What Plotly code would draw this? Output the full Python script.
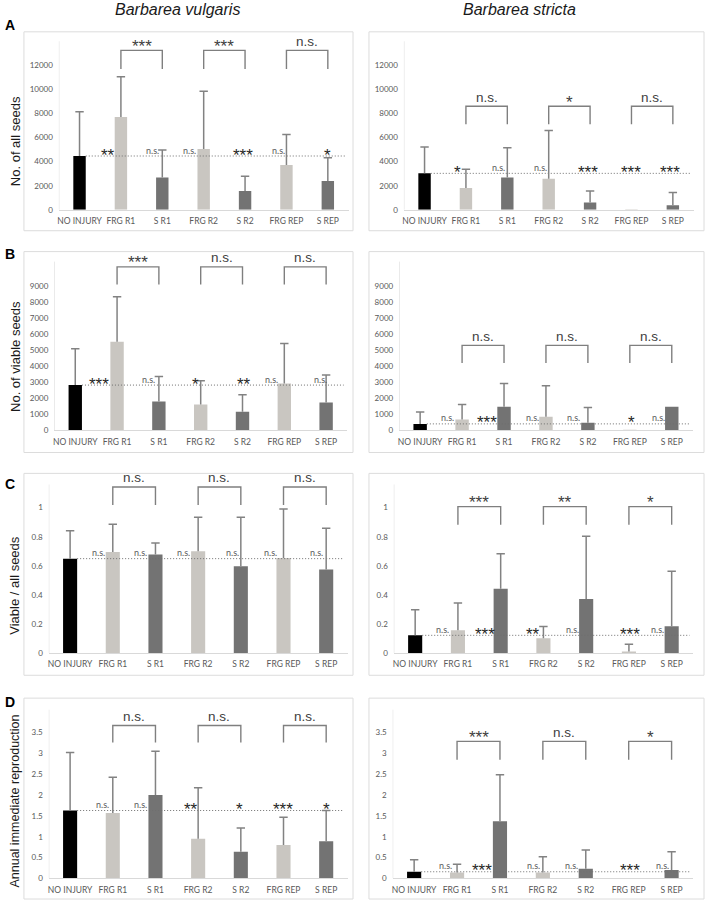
import plotly.graph_objects as go

W, H = 708, 907

# ---------------- data ----------------
categories = ["NO INJURY", "FRG R1", "S R1", "FRG R2", "S R2", "FRG REP", "S REP"]
species_titles = ["Barbarea vulgaris", "Barbarea stricta"]
measure_titles = ["No. of all seeds", "No. of viable seeds", "Viable / all seeds",
                  "Annual immediate reproduction"]
panel_letters = ["A", "B", "C", "D"]

vulgaris_all_seeds_mean = [4470, 7720, 2680, 5050, 1570, 3720, 2400]
vulgaris_all_seeds_sd = [3670, 3340, 2290, 4800, 1220, 2540, 1930]
stricta_all_seeds_mean = [3030, 1820, 2680, 2590, 610, 55, 390]
stricta_all_seeds_sd = [2180, 1550, 2480, 4000, 960, 0, 1040]

vulgaris_viable_seeds_mean = [2815, 5506, 1790, 1600, 1150, 2920, 1730]
vulgaris_viable_seeds_sd = [2260, 2814, 1560, 1480, 1070, 2480, 1720]
stricta_viable_seeds_mean = [400, 680, 1465, 846, 475, 40, 1465]
stricta_viable_seeds_sd = [735, 930, 1445, 1920, 950, 0, 0]

vulgaris_viable_ratio_mean = [0.649, 0.695, 0.677, 0.700, 0.597, 0.654, 0.574]
vulgaris_viable_ratio_sd = [0.192, 0.191, 0.079, 0.234, 0.337, 0.337, 0.285]
stricta_viable_ratio_mean = [0.121, 0.156, 0.442, 0.101, 0.371, 0.009, 0.183]
stricta_viable_ratio_sd = [0.176, 0.187, 0.240, 0.080, 0.432, 0.050, 0.380]

vulgaris_reproduction_mean = [1.63, 1.57, 2.00, 0.955, 0.64, 0.80, 0.89]
vulgaris_reproduction_sd = [1.39, 0.86, 1.05, 1.22, 0.57, 0.67, 0.74]
stricta_reproduction_mean = [0.16, 0.14, 1.37, 0.14, 0.23, 0.01, 0.20]
stricta_reproduction_sd = [0.29, 0.20, 1.12, 0.38, 0.45, 0.0, 0.44]

# significance of each treatment vs NO INJURY
vulgaris_all_vs_control = ["**", "n.s.", "n.s.", "***", "n.s.", "*"]
stricta_all_vs_control = ["*", "n.s.", "n.s.", "***", "***", "***"]
vulgaris_viable_vs_control = ["***", "n.s.", "*", "**", "n.s.", "n.s."]
stricta_viable_vs_control = ["n.s.", "***", "n.s.", "n.s.", "*", "n.s."]
vulgaris_ratio_vs_control = ["n.s.", "n.s.", "n.s.", "n.s.", "n.s.", "n.s."]
stricta_ratio_vs_control = ["n.s.", "***", "**", "n.s.", "***", "n.s."]
vulgaris_repro_vs_control = ["n.s.", "n.s.", "**", "*", "***", "*"]
stricta_repro_vs_control = ["n.s.", "***", "n.s.", "n.s.", "***", "n.s."]

# significance FRG vs S (R1, R2, REP)
vulgaris_all_pairs = ["***", "***", "n.s."]
stricta_all_pairs = ["n.s.", "*", "n.s."]
vulgaris_viable_pairs = ["***", "n.s.", "n.s."]
stricta_viable_pairs = ["n.s.", "n.s.", "n.s."]
vulgaris_ratio_pairs = ["n.s.", "n.s.", "n.s."]
stricta_ratio_pairs = ["***", "**", "*"]
vulgaris_repro_pairs = ["n.s.", "n.s.", "n.s."]
stricta_repro_pairs = ["***", "n.s.", "*"]

panels = [
    (vulgaris_all_seeds_mean, vulgaris_all_seeds_sd, vulgaris_all_vs_control, vulgaris_all_pairs),
    (stricta_all_seeds_mean, stricta_all_seeds_sd, stricta_all_vs_control, stricta_all_pairs),
    (vulgaris_viable_seeds_mean, vulgaris_viable_seeds_sd, vulgaris_viable_vs_control, vulgaris_viable_pairs),
    (stricta_viable_seeds_mean, stricta_viable_seeds_sd, stricta_viable_vs_control, stricta_viable_pairs),
    (vulgaris_viable_ratio_mean, vulgaris_viable_ratio_sd, vulgaris_ratio_vs_control, vulgaris_ratio_pairs),
    (stricta_viable_ratio_mean, stricta_viable_ratio_sd, stricta_ratio_vs_control, stricta_ratio_pairs),
    (vulgaris_reproduction_mean, vulgaris_reproduction_sd, vulgaris_repro_vs_control, vulgaris_repro_pairs),
    (stricta_reproduction_mean, stricta_reproduction_sd, stricta_repro_vs_control, stricta_repro_pairs),
]

# ---------------- layout geometry (pixels) ----------------
ROW_GEOM = [
    dict(zero=211.0, ppu=145.3 / 12000, axis_top=14000, range_top=14700, dtick=2000, tmax=12000, bw=0.30),
    dict(zero=432.7, ppu=145.4 / 9000, axis_top=10500, range_top=11050, dtick=1000, tmax=9000, bw=0.32),
    dict(zero=656.5, ppu=146.0, axis_top=1.16, range_top=1.225, dtick=0.2, tmax=1.0, bw=0.33),
    dict(zero=883.3, ppu=41.9, axis_top=4.05, range_top=4.3, dtick=0.5, tmax=3.5, bw=0.33),
]
COL_X = [
    [(57, 347.5), (403, 693.5)],
    [(52.5, 346), (398.3, 692.7)],
    [(46.9, 346.5), (392.9, 693)],
    [(46.9, 346.5), (391.8, 693)],
]
BRACKETS = [  # (top, bottom) in data units
    (13240, 11700), (8600, 7100),
    (10170, 9080), (5285, 4190),
    (1.143, 1.018), (1.007, 0.883),
    (3.67, 3.26), (3.29, 2.85),
]
LABEL_X = [
    [0.68, 1.76, 2.66, 3.94, 4.80, 5.99],
    [0.80, 1.79, 2.81, 3.95, 4.98, 5.94],
    [0.56, 1.76, 2.88, 4.04, 4.70, 5.86],
    [0.65, 1.60, 2.67, 3.65, 5.03, 5.69],
    [0.66, 1.64, 2.66, 3.81, 4.69, 5.78],
    [0.64, 1.63, 2.76, 3.67, 5.03, 5.67],
    [0.76, 1.66, 2.83, 3.98, 4.99, 6.00],
    [0.74, 1.59, 2.78, 3.67, 5.02, 5.79],
]
BOX_X = [(22, 352), (368, 704)]
BOX_Y = [(32, 232), (253, 455), (476, 679), (702, 904)]
YTITLE_Y = [142, 358, 588, 805]
LETTER_Y = [25, 255, 487, 706]

BLACK, LIGHT, DARK = "#000000", "#c9c6c1", "#737373"
ERR_COLOR = "#828282"
AXIS_COLOR = "#d9d9d9"
TICK_COLOR = "#595959"
TICK_FONT = "Lato"
TEXT_FONT = "Liberation Sans, Arial, sans-serif"


def bar_color(name):
    if name.startswith("FRG"):
        return LIGHT
    if name.startswith("S "):
        return DARK
    return BLACK


fig = go.Figure()
layout = dict(width=W, height=H, margin=dict(l=0, r=0, t=0, b=0),
              paper_bgcolor="white", plot_bgcolor="white", showlegend=False)
shapes = []
annotations = []

xs = list(range(len(categories)))

for k, (mean, sd, vs_ctrl, pairs) in enumerate(panels):
    r, c = divmod(k, 2)
    g = ROW_GEOM[r]
    xl, xr = COL_X[r][c]
    sfx = "" if k == 0 else str(k + 1)
    xa, ya = "x" + sfx, "y" + sfx
    top_px = g["zero"] - g["range_top"] * g["ppu"]

    # reference (dotted) line at NO INJURY level
    ref = mean[0]
    fig.add_trace(go.Scatter(x=[g["bw"] / 2, 6.42], y=[ref, ref], mode="lines",
                             line=dict(color="#6f6f6f", width=1, dash="1px,2px"),
                             xaxis=xa, yaxis=ya, hoverinfo="skip"))
    # bars
    fig.add_trace(go.Bar(x=xs, y=mean, width=g["bw"],
                         marker=dict(color=[bar_color(n) for n in categories], line=dict(width=0)),
                         xaxis=xa, yaxis=ya, hoverinfo="skip"))
    # error bars (upper only)
    ex, ey, cx, cy = [], [], [], []
    for i, (m, s) in enumerate(zip(mean, sd)):
        if s > 0:
            ex += [i, i, None]
            ey += [m, m + s, None]
            cx.append(i)
            cy.append(m + s)
    fig.add_trace(go.Scatter(x=ex, y=ey, mode="lines", line=dict(color=ERR_COLOR, width=1.5),
                             xaxis=xa, yaxis=ya, hoverinfo="skip"))
    fig.add_trace(go.Scatter(x=cx, y=cy, mode="markers",
                             marker=dict(symbol="line-ew", size=6, line=dict(color=ERR_COLOR, width=1.5)),
                             xaxis=xa, yaxis=ya, hoverinfo="skip"))
    # brackets FRG vs S
    btop, bbot = BRACKETS[k]
    bx, by = [], []
    for j in range(3):
        a, b = 2 * j + 1, 2 * j + 2
        bx += [a, a, b, b, None]
        by += [bbot, btop, btop, bbot, None]
        lab = pairs[j]
        star = "*" in lab
        annotations.append(dict(
            x=(a + b) / 2, y=btop, xref=xa, yref=ya, text=lab, showarrow=False,
            yanchor="middle", xanchor="center", yshift=8 + (-4 if star else 1),
            font=dict(family=TEXT_FONT, size=17 if star else 13.5, color="#404040")))
    fig.add_trace(go.Scatter(x=bx, y=by, mode="lines", line=dict(color="#7f7f7f", width=1.4),
                             xaxis=xa, yaxis=ya, hoverinfo="skip"))

    # significance vs control
    for j, lab in enumerate(vs_ctrl):
        star = "*" in lab
        annotations.append(dict(
            x=LABEL_X[k][j], y=ref, xref=xa, yref=ya, text=lab, showarrow=False,
            yanchor="middle", xanchor="center", yshift=1 if star else 6,
            font=dict(family=TEXT_FONT if star else TICK_FONT, size=17 if star else 9,
                      color="#262626" if star else "#595959")))

    # axes
    ntick = int(round(g["tmax"] / g["dtick"])) + 1
    tv = [round(i * g["dtick"], 6) for i in range(ntick)]
    tt = ["{:g}".format(v) for v in tv]
    layout["xaxis" + sfx] = dict(
        domain=[xl / W, xr / W], range=[-0.5, 6.5], anchor=ya,
        tickvals=xs, ticktext=categories, ticks="", showgrid=False, zeroline=False,
        showline=True, linecolor=AXIS_COLOR, linewidth=1, ticklabelstandoff=3,
        tickfont=dict(family=TICK_FONT, size=8.5, color=TICK_COLOR), fixedrange=True)
    layout["yaxis" + sfx] = dict(
        domain=[1 - g["zero"] / H, 1 - top_px / H], range=[0, g["range_top"]], anchor=xa,
        tickvals=tv, ticktext=tt, ticks="", showgrid=False, zeroline=False, showline=False,
        ticklabelstandoff=5, tickfont=dict(family=TICK_FONT, size=8, color=TICK_COLOR),
        fixedrange=True)
    # y axis line
    shapes.append(dict(type="line", xref=xa, yref=ya, x0=-0.5, x1=-0.5, y0=0, y1=g["axis_top"],
                       line=dict(color=AXIS_COLOR, width=1)))
    # panel box
    bx0, bx1 = BOX_X[c]
    by0, by1 = BOX_Y[r]
    shapes.append(dict(type="rect", xref="paper", yref="paper",
                       x0=bx0 / W, x1=bx1 / W, y0=1 - by1 / H, y1=1 - by0 / H,
                       line=dict(color="#dcdcdc", width=1), fillcolor="rgba(0,0,0,0)", layer="below"))

# species titles
for c, t in enumerate(species_titles):
    annotations.append(dict(x=[176, 519][c] / W, y=1 - 10 / H, xref="paper", yref="paper",
                            text="<i>" + t + "</i>", showarrow=False, xanchor="center", yanchor="middle",
                            font=dict(family=TEXT_FONT, size=16, color="#1a1a1a")))
# y titles and panel letters
for r in range(4):
    annotations.append(dict(x=13 / W, y=1 - YTITLE_Y[r] / H, xref="paper", yref="paper",
                            text=measure_titles[r], showarrow=False, textangle=-90,
                            xanchor="center", yanchor="middle",
                            font=dict(family=TEXT_FONT, size=12.5 if r == 3 else 13, color="#1a1a1a")))
    annotations.append(dict(x=8 / W, y=1 - LETTER_Y[r] / H, xref="paper", yref="paper",
                            text="<b>" + panel_letters[r] + "</b>", showarrow=False,
                            xanchor="center", yanchor="middle",
                            font=dict(family=TEXT_FONT, size=14, color="#000000")))

layout["shapes"] = shapes
layout["annotations"] = annotations
fig.update_layout(**layout)
fig.write_html("out.html", config={"displayModeBar": False, "staticPlot": True},
               post_script="document.body.style.margin='0';document.body.style.overflow='hidden';")
